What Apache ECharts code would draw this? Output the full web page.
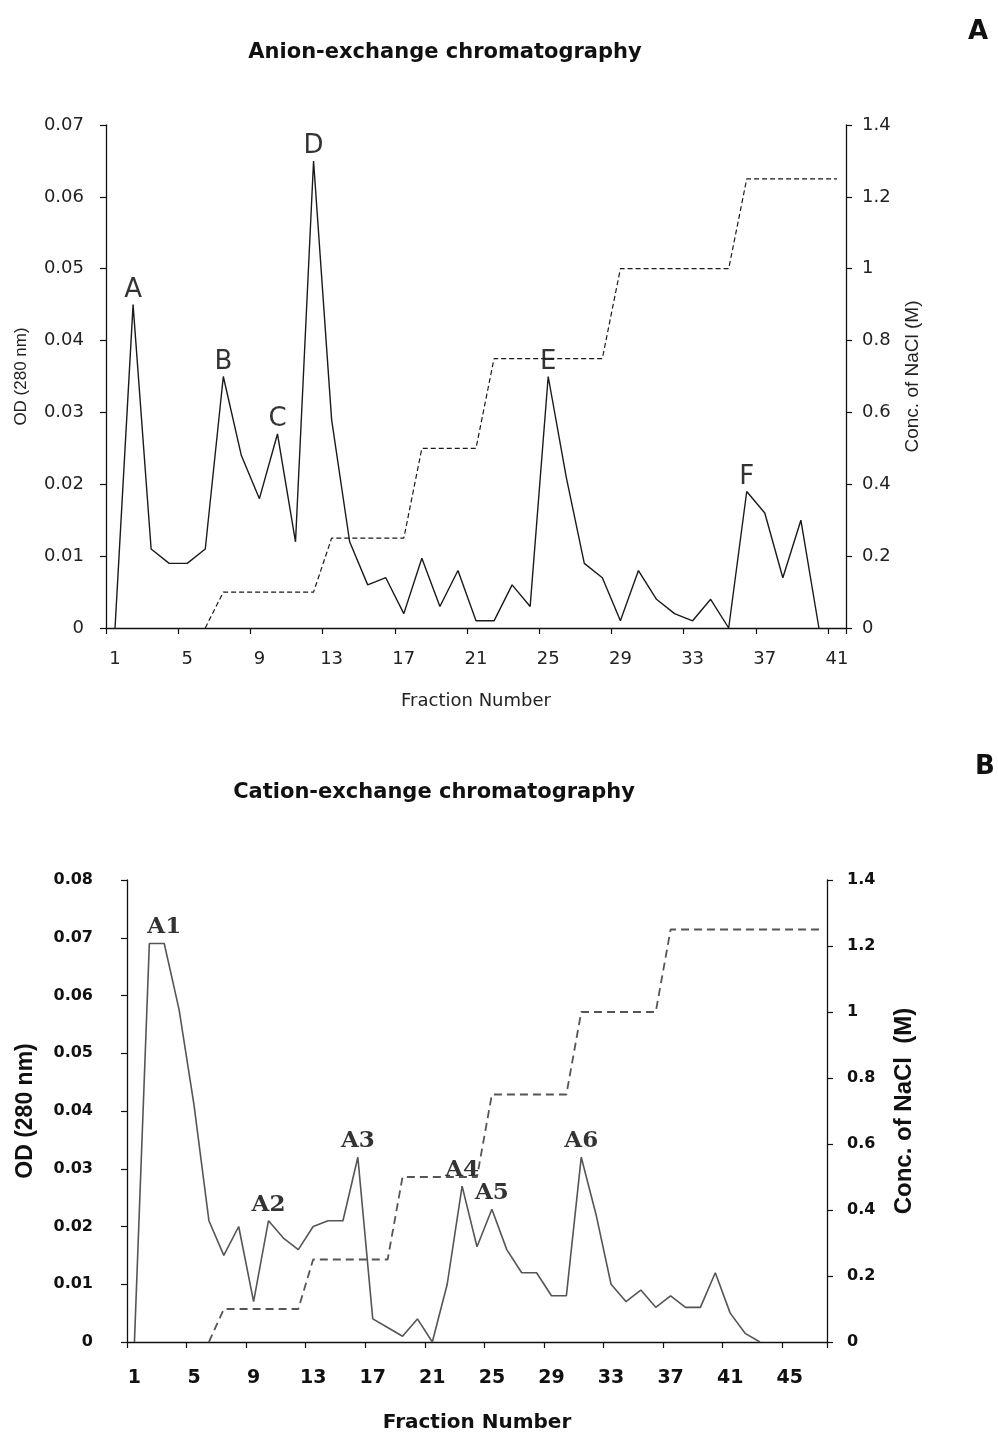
<!DOCTYPE html>
<html>
<head>
<meta charset="utf-8">
<title>chromatography</title>
<script src="https://cdn.jsdelivr.net/npm/echarts@6/dist/echarts.min.js"></script>
<style>
  html, body { margin: 0; padding: 0; background: #fff; }
  #main { width: 998px; height: 1435px; }
</style>
</head>
<body>
<div id="main"></div>
<script>
// ---- panel A : anion exchange ----
var fracA = ['1','2','3','4','5','6','7','8','9','10','11','12','13','14','15','16','17','18','19','20',
             '21','22','23','24','25','26','27','28','29','30','31','32','33','34','35','36','37','38','39','40','41'];
var odA = [0, 0.045, 0.011, 0.009, 0.009, 0.011, 0.035, 0.024, 0.018, 0.027,
           0.012, 0.065, 0.029, 0.012, 0.006, 0.007, 0.002, 0.0097, 0.003, 0.008,
           0.001, 0.001, 0.006, 0.003, 0.035, 0.021, 0.009, 0.007, 0.001, 0.008,
           0.004, 0.002, 0.001, 0.004, 0, 0.019, 0.016, 0.007, 0.015, 0, null];
var naclA = [null, null, null, null, null, 0, 0.1, 0.1, 0.1, 0.1,
             0.1, 0.1, 0.25, 0.25, 0.25, 0.25, 0.25, 0.5, 0.5, 0.5,
             0.5, 0.75, 0.75, 0.75, 0.75, 0.75, 0.75, 0.75, 1, 1,
             1, 1, 1, 1, 1, 1.25, 1.25, 1.25, 1.25, 1.25, 1.25];
var peakNamesA = ['A', 'B', 'C', 'D', 'E', 'F'];
var peakFracA = [2, 7, 10, 12, 25, 36];

// ---- panel B : cation exchange ----
var fracB = ['1','2','3','4','5','6','7','8','9','10','11','12','13','14','15','16','17','18','19','20',
             '21','22','23','24','25','26','27','28','29','30','31','32','33','34','35','36','37','38','39','40',
             '41','42','43','44','45','46','47'];
var odB = [0, 0.069, 0.069, 0.0575, 0.041, 0.021, 0.015, 0.020, 0.007, 0.021,
           0.018, 0.016, 0.020, 0.021, 0.021, 0.032, 0.004, 0.0025, 0.001, 0.004,
           0, 0.010, 0.027, 0.0165, 0.023, 0.016, 0.012, 0.012, 0.008, 0.008,
           0.032, 0.022, 0.010, 0.007, 0.009, 0.006, 0.008, 0.006, 0.006, 0.012,
           0.005, 0.0015, 0, null, null, null, null];
var naclB = [null, null, null, null, null, 0, 0.1, 0.1, 0.1, 0.1,
             0.1, 0.1, 0.25, 0.25, 0.25, 0.25, 0.25, 0.25, 0.5, 0.5,
             0.5, 0.5, 0.5, 0.5, 0.75, 0.75, 0.75, 0.75, 0.75, 0.75,
             1, 1, 1, 1, 1, 1, 1.25, 1.25, 1.25, 1.25,
             1.25, 1.25, 1.25, 1.25, 1.25, 1.25, 1.25];
var peakNamesB = ['A1', 'A2', 'A3', 'A4', 'A5', 'A6'];
var peakFracB = [3, 10, 16, 23, 25, 31];

function peakData(names, fracs, cats, vals) {
  var out = [];
  for (var i = 0; i < names.length; i++) {
    out.push({ name: names[i], value: [cats[fracs[i] - 1], vals[fracs[i] - 1]] });
  }
  return out;
}

var sans = 'DejaVu Sans';
var arial = 'Liberation Sans';
var axisLine = { lineStyle: { color: '#111', width: 1.3 } };
var axisTick = { show: true, inside: false, length: 6, lineStyle: { color: '#111', width: 1.2 } };

var myChart = echarts.init(document.getElementById('main'), null, { renderer: 'canvas' });
var option = {
  backgroundColor: '#fff',
  animation: false,
  title: [
    { text: 'Anion-exchange chromatography', left: 440, top: 37, textAlign: 'center',
      textStyle: { fontFamily: sans, fontSize: 21, fontWeight: 'bold', color: '#111' } },
    { text: 'A', left: 973, top: 14, textAlign: 'center',
      textStyle: { fontFamily: sans, fontSize: 26, fontWeight: 'bold', color: '#111' } },
    { text: 'Cation-exchange chromatography', left: 429, top: 777, textAlign: 'center',
      textStyle: { fontFamily: sans, fontSize: 21, fontWeight: 'bold', color: '#111' } },
    { text: 'B', left: 980, top: 749, textAlign: 'center',
      textStyle: { fontFamily: sans, fontSize: 26, fontWeight: 'bold', color: '#111' } }
  ],
  grid: [
    { left: 106, top: 125, width: 740, height: 503 },
    { left: 127, top: 880, width: 700, height: 462 }
  ],
  xAxis: [
    {
      type: 'category', gridIndex: 0, data: fracA, boundaryGap: true,
      name: 'Fraction Number', nameLocation: 'middle', nameGap: 64,
      nameTextStyle: { fontFamily: sans, fontSize: 18, color: '#222' },
      axisLine: axisLine, axisTick: axisTick,
      axisLabel: { interval: 3, margin: 22, fontFamily: sans, fontSize: 18, color: '#222' },
      splitLine: { show: false }
    },
    {
      type: 'category', gridIndex: 1, data: fracB, boundaryGap: true,
      name: 'Fraction Number', nameLocation: 'middle', nameGap: 71,
      nameTextStyle: { fontFamily: sans, fontSize: 20, fontWeight: 'bold', color: '#111' },
      axisLine: axisLine, axisTick: axisTick,
      axisLabel: { interval: 3, margin: 27, fontFamily: sans, fontSize: 19, fontWeight: 'bold', color: '#111' },
      splitLine: { show: false }
    }
  ],
  yAxis: [
    {
      type: 'value', gridIndex: 0, min: 0, max: 0.07, interval: 0.01, position: 'left',
      name: 'OD (280 nm)', nameLocation: 'middle', nameRotate: 90, nameGap: 76,
      nameTextStyle: { fontFamily: arial, fontSize: 17, color: '#222' },
      axisLine: { show: true, lineStyle: axisLine.lineStyle }, axisTick: axisTick,
      axisLabel: { margin: 22, fontFamily: sans, fontSize: 18, color: '#222' },
      splitLine: { show: false }
    },
    {
      type: 'value', gridIndex: 0, min: 0, max: 1.4, interval: 0.2, position: 'right',
      name: 'Conc. of NaCl (M)', nameLocation: 'middle', nameRotate: 90, nameGap: 57,
      nameTextStyle: { fontFamily: arial, fontSize: 19, color: '#222' },
      axisLine: { show: true, lineStyle: axisLine.lineStyle }, axisTick: axisTick,
      axisLabel: { margin: 16, fontFamily: sans, fontSize: 18, color: '#222' },
      splitLine: { show: false }
    },
    {
      type: 'value', gridIndex: 1, min: 0, max: 0.08, interval: 0.01, position: 'left',
      name: 'OD (280 nm)', nameLocation: 'middle', nameRotate: 90, nameGap: 90,
      nameTextStyle: { fontFamily: arial, fontSize: 23, fontWeight: 'bold', color: '#111' },
      axisLine: { show: true, lineStyle: axisLine.lineStyle }, axisTick: axisTick,
      axisLabel: { margin: 34, fontFamily: sans, fontSize: 16, fontWeight: 'bold', color: '#111' },
      splitLine: { show: false }
    },
    {
      type: 'value', gridIndex: 1, min: 0, max: 1.4, interval: 0.2, position: 'right',
      name: 'Conc. of NaCl  (M)', nameLocation: 'middle', nameRotate: 90, nameGap: 65,
      nameTextStyle: { fontFamily: arial, fontSize: 24, fontWeight: 'bold', color: '#111' },
      axisLine: { show: true, lineStyle: axisLine.lineStyle }, axisTick: axisTick,
      axisLabel: { margin: 20, fontFamily: sans, fontSize: 16, fontWeight: 'bold', color: '#111' },
      splitLine: { show: false }
    }
  ],
  series: [
    {
      name: 'OD A', type: 'line', xAxisIndex: 0, yAxisIndex: 0, data: odA,
      symbol: 'none', connectNulls: false,
      lineStyle: { color: '#1a1a1a', width: 1.4 }
    },
    {
      name: 'NaCl A', type: 'line', xAxisIndex: 0, yAxisIndex: 1, data: naclA,
      symbol: 'none', connectNulls: false,
      lineStyle: { color: '#1a1a1a', width: 1.2, type: [5, 3] }
    },
    {
      name: 'peaks A', type: 'scatter', xAxisIndex: 0, yAxisIndex: 0,
      data: peakData(peakNamesA, peakFracA, fracA, odA),
      symbolSize: 1, itemStyle: { color: 'rgba(0,0,0,0)' },
      label: { show: true, position: 'top', distance: 1, formatter: '{b}',
               fontFamily: sans, fontSize: 26, color: '#000' }
    },
    {
      name: 'OD B', type: 'line', xAxisIndex: 1, yAxisIndex: 2, data: odB,
      symbol: 'none', connectNulls: false,
      lineStyle: { color: '#555', width: 1.6 }
    },
    {
      name: 'NaCl B', type: 'line', xAxisIndex: 1, yAxisIndex: 3, data: naclB,
      symbol: 'none', connectNulls: false,
      lineStyle: { color: '#555', width: 1.8, type: [8, 5] }
    },
    {
      name: 'peaks B', type: 'scatter', xAxisIndex: 1, yAxisIndex: 2,
      data: peakData(peakNamesB, peakFracB, fracB, odB),
      symbolSize: 1, itemStyle: { color: 'rgba(0,0,0,0)' },
      label: { show: true, position: 'top', distance: 4, formatter: '{b}',
               fontFamily: 'DejaVu Serif', fontSize: 23, fontWeight: 'bold', color: '#000' }
    }
  ]
};
myChart.setOption(option);
</script>
</body>
</html>
